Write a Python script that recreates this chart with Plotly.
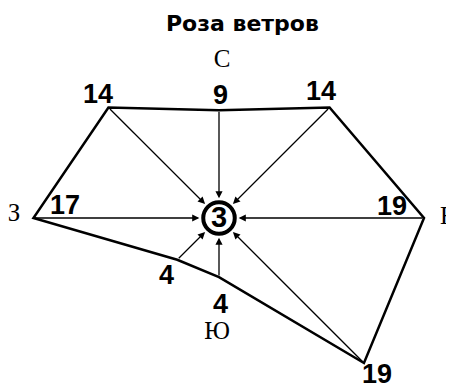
import numpy as np
import plotly.graph_objects as go

# wind rose data: 8 directions + calm
directions = ['С', 'СВ', 'В', 'ЮВ', 'Ю', 'ЮЗ', 'З', 'СЗ']
angles_deg = [90, 45, 0, -45, -90, -135, 180, 135]
wind_freq = [9, 14, 19, 19, 4, 4, 17, 14]
calm = 3
cardinals = ['С', 'В', 'Ю', 'З']
title = 'Роза ветров'

# page body has an 8px margin, so the figure is drawn 8px smaller
PAD = 8
W, H = 454 - PAD, 383 - PAD
cx_px, cy_px = 219 - PAD, 218 - PAD
ppu = 9.73          # pixels per unit
r0 = 2.07           # calm circle offset (units)

x_range = [-cx_px / ppu, (W - cx_px) / ppu]
y_range = [-(H - cy_px) / ppu, cy_px / ppu]

ang = np.radians(angles_deg)
r = np.array(wind_freq) + r0
xs = r * np.cos(ang)
ys = r * np.sin(ang)

num_font = dict(family='Liberation Sans, Arial, sans-serif',
                size=27, color='black', weight='bold')
dir_font = dict(family='Liberation Serif, serif', size=25, color='black')


def px2data(px, py):
    return (px - PAD - cx_px) / ppu, (cy_px - (py - PAD)) / ppu


fig = go.Figure()

# polygon
fig.add_trace(go.Scatter(x=list(xs) + [xs[0]], y=list(ys) + [ys[0]], mode='lines',
                         line=dict(color='black', width=2.5), hoverinfo='skip',
                         showlegend=False))

annotations = []
# arrows to the calm circle
edge = 2.02
for i in range(len(directions)):
    annotations.append(dict(x=edge * np.cos(ang[i]), y=edge * np.sin(ang[i]),
                            ax=xs[i], ay=ys[i], xref='x', yref='y', axref='x', ayref='y',
                            text='', showarrow=True, arrowhead=2, arrowsize=1.1,
                            arrowwidth=1.3, arrowcolor='black', standoff=0))

# value labels (pixel shifts from each point)
shifts = {'С': (1, 15), 'СВ': (-9, 16), 'В': (-32, 12), 'ЮВ': (13, -11),
          'Ю': (1, -27), 'ЮЗ': (-11, -15), 'З': (32, 13), 'СЗ': (-10, 13)}
for i, d in enumerate(directions):
    sx, sy = shifts[d]
    annotations.append(dict(x=xs[i], y=ys[i], xref='x', yref='y', text=str(wind_freq[i]),
                            showarrow=False, xshift=sx, yshift=sy, font=num_font,
                            xanchor='center', yanchor='middle'))

# calm value
annotations.append(dict(x=0, y=0, xref='x', yref='y', text=str(calm), showarrow=False,
                        font=dict(num_font, size=29), xanchor='center',
                        yanchor='middle', yshift=1))

# cardinal letters as a text trace (the east one runs off the right edge)
card_px = {'С': (222, 61, 'middle center'), 'В': (440, 218, 'middle right'),
           'Ю': (217, 333, 'middle center'), 'З': (14, 215, 'middle center')}
cx_list, cy_list, pos_list = [], [], []
for c in cardinals:
    px, py, pos = card_px[c]
    dx, dy = px2data(px, py)
    cx_list.append(dx)
    cy_list.append(dy)
    pos_list.append(pos)
fig.add_trace(go.Scatter(x=cx_list, y=cy_list, mode='text', text=cardinals,
                         textposition=pos_list, textfont=dir_font, cliponaxis=False,
                         hoverinfo='skip', showlegend=False))

annotations.append(dict(x=(243 - PAD) / W, y=1 - (24 - PAD) / H, xref='paper',
                        yref='paper', text=title, showarrow=False, xanchor='center',
                        yanchor='middle',
                        font=dict(family='DejaVu Sans, sans-serif', size=22,
                                  color='black', weight='bold')))

fig.add_shape(type='circle', xref='x', yref='y', x0=-1.62, y0=-1.62, x1=1.62, y1=1.62,
              line=dict(color='black', width=4))

fig.update_layout(width=W, height=H, margin=dict(l=0, r=0, t=0, b=0),
                  plot_bgcolor='white', paper_bgcolor='white',
                  annotations=annotations)
fig.update_xaxes(visible=False, range=x_range)
fig.update_yaxes(visible=False, range=y_range)

fig.write_html("out.html")
